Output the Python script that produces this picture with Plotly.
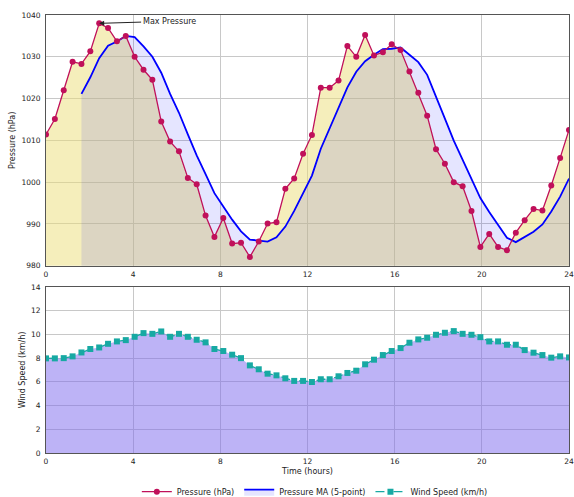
import numpy as np
import pandas as pd
import plotly.graph_objects as go
from plotly.subplots import make_subplots

# Sampling times over one day (60 readings)
time_hours = np.linspace(0, 24, 60)

pressure_hpa = [
    1011.4, 1015.1, 1022.0, 1028.8, 1028.3, 1031.3, 1038.0, 1036.9, 1033.7, 1035.0,
    1030.0, 1026.9, 1024.5, 1014.5, 1009.7, 1007.4, 1001.0, 999.5, 992.0, 986.9,
    991.4, 985.3, 985.5, 982.1, 985.8, 990.1, 990.4, 998.4, 1000.9, 1006.8,
    1011.3, 1022.6, 1022.6, 1024.3, 1032.6, 1030.0, 1035.2, 1030.3, 1031.1, 1033.0,
    1031.6, 1026.5, 1021.4, 1015.9, 1007.9, 1004.4, 1000.0, 999.0, 993.1, 984.5,
    987.6, 984.5, 983.7, 987.9, 990.9, 993.6, 993.2, 999.2, 1005.8, 1012.5,
]

wind_kmh = [
    7.98, 7.98, 8.00, 8.15, 8.48, 8.77, 8.90, 9.21, 9.41, 9.52,
    9.80, 10.11, 10.05, 10.25, 9.80, 10.05, 9.80, 9.55, 9.33, 8.77,
    8.60, 8.29, 8.00, 7.39, 7.06, 6.69, 6.55, 6.30, 6.08, 6.08,
    5.99, 6.22, 6.22, 6.47, 6.75, 6.94, 7.48, 7.87, 8.26, 8.60,
    8.85, 9.30, 9.58, 9.72, 9.97, 10.14, 10.28, 10.05, 9.97, 9.77,
    9.41, 9.41, 9.13, 9.13, 8.68, 8.46, 8.26, 8.04, 8.15, 8.06,
]

# 5-point moving average of pressure (valid window only)
ma_series = pd.Series(pressure_hpa).rolling(5).mean()
ma_mask = ma_series.notna().to_numpy()
ma_time = time_hours[ma_mask]
ma_vals = ma_series[ma_mask].to_numpy()

x_ticks = [0, 4, 8, 12, 16, 20, 24]

PRESSURE_COLOR = "#c0105a"
MA_COLOR = "#0000ff"
WIND_COLOR = "#17a9a3"
FONT = "DejaVu Sans"
FS_TICK = 7.5
FS = 8
TEXT = "#222222"
AXIS_LINE = "#555555"
GRID = "#c8c8c8"

fig = make_subplots(rows=2, cols=1, shared_xaxes=False, vertical_spacing=0.05,
                    row_heights=[0.6, 0.4])

# Area under pressure (fill only)
fig.add_trace(go.Scatter(
    x=time_hours, y=pressure_hpa, mode="none", fill="tozeroy",
    fillcolor="rgba(236,222,120,0.5)", showlegend=False, hoverinfo="skip",
), row=1, col=1)

# Moving average with translucent fill
fig.add_trace(go.Scatter(
    x=ma_time, y=ma_vals, mode="lines", name="Pressure MA (5-point)",
    line=dict(color=MA_COLOR, width=1.8), fill="tozeroy",
    fillcolor="rgba(0,0,255,0.1)", legendrank=2,
), row=1, col=1)

# Pressure readings
fig.add_trace(go.Scatter(
    x=time_hours, y=pressure_hpa, mode="lines+markers", name="Pressure (hPa)",
    line=dict(color=PRESSURE_COLOR, width=1.3),
    marker=dict(symbol="circle", size=6, color=PRESSURE_COLOR), legendrank=1,
), row=1, col=1)

# Area under wind speed (fill only)
fig.add_trace(go.Scatter(
    x=time_hours, y=wind_kmh, mode="none", fill="tozeroy",
    fillcolor="rgba(123,104,238,0.5)", showlegend=False, hoverinfo="skip",
), row=2, col=1)

# Wind speed readings
fig.add_trace(go.Scatter(
    x=time_hours, y=wind_kmh, mode="lines+markers", name="Wind Speed (km/h)",
    line=dict(color=WIND_COLOR, width=1.3, dash="dash"),
    marker=dict(symbol="square", size=6, color=WIND_COLOR), legendrank=3,
), row=2, col=1)

# Annotate the peak pressure
i_max = int(np.argmax(pressure_hpa))
fig.add_annotation(
    x=time_hours[i_max], y=pressure_hpa[i_max], xref="x", yref="y",
    text="Max Pressure", showarrow=True, arrowhead=2, arrowsize=1, arrowwidth=1,
    arrowcolor=TEXT, ax=5.65, ay=1038.5, axref="x", ayref="y",
    font=dict(family=FONT, size=FS, color=TEXT),
)

axis_common = dict(
    showline=True, linecolor=AXIS_LINE, linewidth=1, mirror=True,
    ticks="",
    showgrid=True, gridcolor=GRID, gridwidth=1, zeroline=False,
    tickfont=dict(family=FONT, size=FS_TICK, color=TEXT),
    ticklabeloverflow="allow", automargin=False,
)

fig.update_xaxes(range=[0, 24], tickvals=x_ticks, ticklabelstandoff=1, **axis_common)
fig.update_xaxes(title=dict(text="Time (hours)", standoff=3,
                            font=dict(family=FONT, size=FS, color=TEXT)),
                 row=2, col=1)
fig.update_yaxes(ticklabelstandoff=3, **axis_common)
fig.update_yaxes(range=[980, 1040], dtick=10, row=1, col=1,
                 title=dict(text="Pressure (hPa)", standoff=4,
                            font=dict(family=FONT, size=FS, color=TEXT)))
fig.update_yaxes(range=[0, 14], dtick=2, row=2, col=1,
                 title=dict(text="Wind Speed (km/h)", standoff=4,
                            font=dict(family=FONT, size=FS, color=TEXT)))

# Panel placement
fig.update_layout(
    yaxis=dict(domain=[0.4276, 1.0]),
    yaxis2=dict(domain=[0.0, 0.379]),
)

fig.update_layout(
    width=574, height=497,
    margin=dict(l=46, r=5, t=15, b=44),
    paper_bgcolor="white", plot_bgcolor="white",
    font=dict(family=FONT, size=FS, color=TEXT),
    legend=dict(orientation="h", x=0.514, xanchor="center",
                yref="container", y=0.0107, yanchor="middle",
                font=dict(family=FONT, size=FS, color=TEXT),
                bgcolor="rgba(0,0,0,0)", traceorder="normal",
                itemwidth=30),
    showlegend=True,
)

fig.write_html("out.html")
